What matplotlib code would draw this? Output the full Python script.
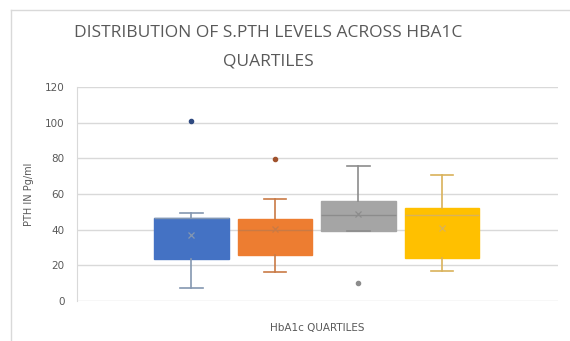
import matplotlib
matplotlib.use("Agg")
import matplotlib.pyplot as plt
from matplotlib.lines import Line2D

# Five-number summaries of serum PTH (pg/ml) per HbA1c quartile
quartiles = ["Q1", "Q2", "Q3", "Q4"]
q1_vals = [23.7, 26.0, 39.5, 24.0]
medians = [46.8, 40.0, 48.0, 48.0]
q3_vals = [46.8, 46.0, 56.0, 52.0]
whisker_low = [7.5, 16.5, 39.5, 17.0]
whisker_high = [49.5, 57.0, 75.5, 70.5]
means = [37.0, 40.5, 49.0, 41.0]
outliers = [[101.0], [79.5], [10.0], []]

yticks = [0, 20, 40, 60, 80, 100, 120]

box_colors = ["#4472C4", "#ED7D31", "#A5A5A5", "#FFC000"]
line_colors = ["#8497B0", "#C97A45", "#8C8C8C", "#D9B25A"]
flier_colors = ["#2F4A80", "#A0522D", "#8C8C8C", "#BF9000"]

fig = plt.figure(figsize=(5.70, 3.41), dpi=100)
W, H = 570, 341
ax = fig.add_axes([77 / W, 1 - 301 / H, (558 - 77) / W, (301 - 87) / H])

positions = [1, 2, 3, 4]
for i in range(len(quartiles)):
    stats = [dict(med=medians[i], q1=q1_vals[i], q3=q3_vals[i],
                  whislo=whisker_low[i], whishi=whisker_high[i],
                  mean=means[i], fliers=outliers[i], label=quartiles[i])]
    ax.bxp(stats, positions=[positions[i]], widths=0.89, patch_artist=True,
           showmeans=True, showcaps=True,
           boxprops=dict(facecolor=box_colors[i], edgecolor=box_colors[i], linewidth=1),
           medianprops=dict(color=line_colors[i], linewidth=1.0),
           whiskerprops=dict(color=line_colors[i], linewidth=1.2),
           capprops=dict(color=line_colors[i], linewidth=1.2),
           capwidths=0.27,
           meanprops=dict(marker="x", markeredgecolor=line_colors[i],
                          markersize=4.5, markeredgewidth=0.9),
           flierprops=dict(marker="o", markerfacecolor=flier_colors[i],
                           markeredgecolor=flier_colors[i], markersize=3))

ax.set_xlim(-0.37, 5.39)
ax.set_ylim(0, 120)
ax.set_yticks(yticks)
ax.set_xticks([])
ax.yaxis.grid(True, color="#D9D9D9", linewidth=1)
ax.set_axisbelow(True)
for side in ["top", "right", "bottom"]:
    ax.spines[side].set_visible(False)
ax.spines["left"].set_color("#D9D9D9")
ax.tick_params(axis="y", length=0, pad=9, labelsize=7.5, labelcolor="#595959")

ax.set_ylabel("PTH IN Pg/ml", fontsize=7, color="#595959", labelpad=8)
ax.set_xlabel("HbA1c QUARTILES", fontsize=7.5, color="#595959", labelpad=16)

fig.text(268 / W, 1 - 33 / H, "DISTRIBUTION OF S.PTH LEVELS ACROSS HBA1C",
         ha="center", va="center", fontsize=12.5, color="#595959", family="Open Sans")
fig.text(268 / W, 1 - 61 / H, "QUARTILES",
         ha="center", va="center", fontsize=12.5, color="#595959", family="Open Sans")

# Light frame of the chart area
fig.add_artist(Line2D([11 / W, 11 / W], [0, 1 - 10 / H], color="#D9D9D9", lw=1))
fig.add_artist(Line2D([11 / W, 1], [1 - 10 / H, 1 - 10 / H], color="#D9D9D9", lw=1))

fig.savefig("out.png", dpi=100, facecolor="white")
